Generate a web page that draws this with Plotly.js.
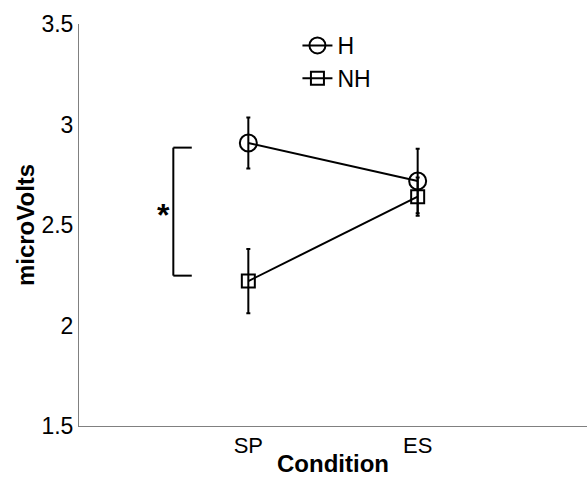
<!DOCTYPE html>
<html><head><meta charset="utf-8">
<script src="https://cdn.plot.ly/plotly-3.0.1.min.js"></script>
<style>html,body{margin:0;padding:0;background:#fff}#chart{width:587px;height:477px}</style>
</head><body><div id="chart"></div>
<script>
const categories = ['SP', 'ES'];
const seriesNames = ['H', 'NH'];
const hValues = [2.908, 2.719];
const hErrors = [0.127, 0.16];
const nhValues = [2.221, 2.641];
const nhErrors = [0.16, 0.095];
const bracketValues = [2.885, 2.248];
const yTickVals = [1.5, 2, 2.5, 3, 3.5];
const yTickText = ['1.5', '2', '2.5', '3', '3.5'];

const font = 'Arial, "Liberation Sans", sans-serif';

function series(name, vals, errs, symbol, size) {
  return {
    type: 'scatter', mode: 'lines+markers', name: name,
    x: categories, y: vals,
    line: {color: '#000', width: 2},
    marker: {symbol: symbol, size: size, color: '#000', line: {color: '#000', width: 2}},
    error_y: {type: 'data', array: errs, visible: true, color: '#000', thickness: 2, width: 2},
    cliponaxis: false
  };
}

const data = [
  series(seriesNames[0], hValues, hErrors, 'circle-open', 17),
  series(seriesNames[1], nhValues, nhErrors, 'square-open', 13)
];

const bx = -0.443, bEnd = -0.334;
const layout = {
  width: 587, height: 477,
  margin: {l: 79, r: 0, t: 24, b: 51},
  paper_bgcolor: '#fff', plot_bgcolor: '#fff',
  showlegend: true,
  legend: {x: 0.43, y: 1.0, xanchor: 'left', yanchor: 'top', bgcolor: 'rgba(0,0,0,0)',
           font: {family: font, size: 23, color: '#000'}, tracegroupgap: 0, itemwidth: 30},
  xaxis: {
    type: 'category', range: [-1, 2], showgrid: false, zeroline: false,
    showline: true, linecolor: '#808080', linewidth: 1, ticks: '',
    tickfont: {family: font, size: 22, color: '#000'},
    title: {text: '<b>Condition</b>', font: {family: font, size: 24, color: '#000'}, standoff: 2}
  },
  yaxis: {
    range: [1.5, 3.5], showgrid: false, zeroline: false,
    showline: true, linecolor: '#808080', linewidth: 1, ticks: '',
    tickvals: yTickVals, ticktext: yTickText,
    tickfont: {family: font, size: 23, color: '#000'},
    title: {text: '<b>microVolts</b>', font: {family: font, size: 24, color: '#000'}, standoff: 0}
  },
  shapes: [
    {type: 'line', xref: 'x', yref: 'y', x0: bx, x1: bx, y0: bracketValues[0], y1: bracketValues[1], line: {color: '#000', width: 2}},
    {type: 'line', xref: 'x', yref: 'y', x0: bx, x1: bEnd, y0: bracketValues[0], y1: bracketValues[0], line: {color: '#000', width: 2}},
    {type: 'line', xref: 'x', yref: 'y', x0: bx, x1: bEnd, y0: bracketValues[1], y1: bracketValues[1], line: {color: '#000', width: 2}}
  ],
  annotations: [
    {xref: 'x', yref: 'y', x: -0.5, y: (bracketValues[0] + bracketValues[1]) / 2, text: '<b>*</b>', showarrow: false,
     font: {family: font, size: 32, color: '#000'}, yshift: -3}
  ]
};

Plotly.newPlot('chart', data, layout, {displayModeBar: false, staticPlot: true});
</script>
</body></html>
